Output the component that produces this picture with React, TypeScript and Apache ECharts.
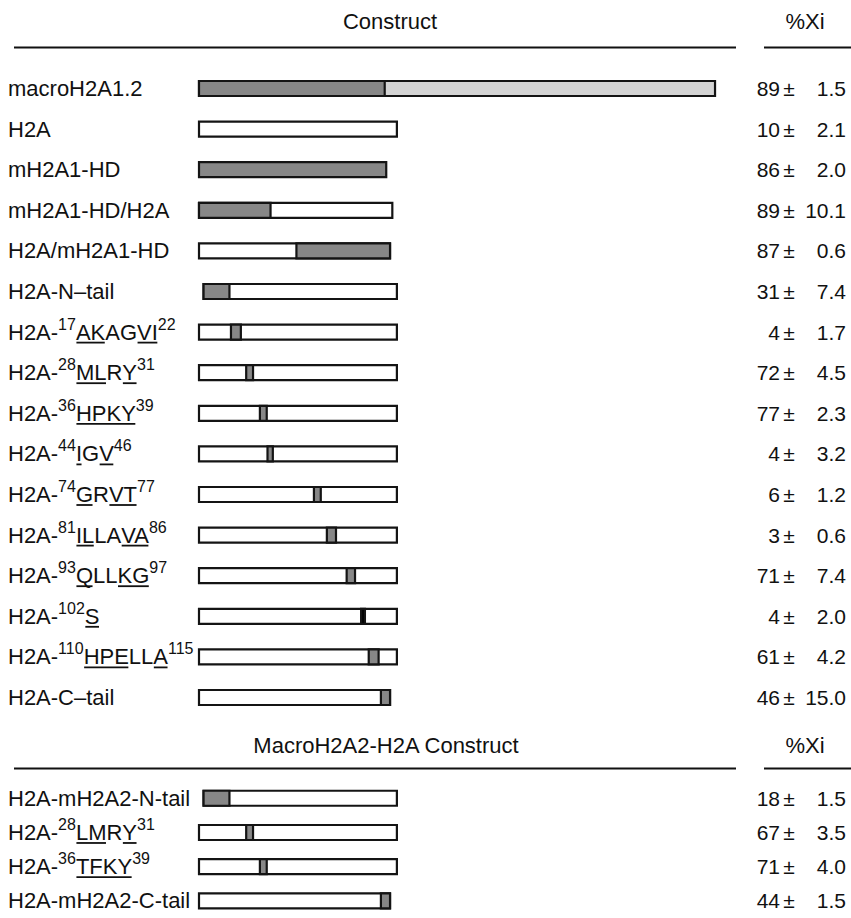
import React, { useEffect, useRef } from "react";
import * as echarts from "echarts";

// ---- Data ----
// Section 1: macroH2A1 / H2A constructs
const names1 = [
  "macroH2A1.2",
  "H2A",
  "mH2A1-HD",
  "mH2A1-HD/H2A",
  "H2A/mH2A1-HD",
  "H2A-N\u2013tail",
  "H2A-^17^_AK_AG_VI_^22^",
  "H2A-^28^_ML_R_Y_^31^",
  "H2A-^36^_HPKY_^39^",
  "H2A-^44^_I_G_V_^46^",
  "H2A-^74^_G_R_VT_^77^",
  "H2A-^81^_IL_LA_VA_^86^",
  "H2A-^93^_Q_LL_KG_^97^",
  "H2A-^102^_S_",
  "H2A-^110^_HPE_LL_A_^115^",
  "H2A-C\u2013tail",
];
// schematic positions (approx. residue units)
const baseStart1 = [0, 0, 0, 0, 0, 3, 0, 0, 0, 0, 0, 0, 0, 0, 0, 0];
const baseEnd1 = [339, 130, 123, 127, 125.5, 130, 130, 130, 130, 130, 130, 130, 130, 130, 130, 125.5];
const baseFill1 = ["light", "white", "dark", "white", "white", "white", "white", "white", "white", "white", "white", "white", "white", "white", "white", "white"];
const regStart1 = [0, null, null, 0, 64, 3, 21, 31, 40, 45, 75.5, 84, 97, 106.5, 111.5, 119.5];
const regEnd1 = [122, null, null, 47, 125.5, 20, 27.5, 35.5, 44.5, 48.5, 80, 90, 102.5, 109, 118, 125.5];
const regFill1 = ["dark", null, null, "dark", "dark", "dark", "dark", "dark", "dark", "dark", "dark", "dark", "dark", "black", "dark", "dark"];
const xiMean1 = [89, 10, 86, 89, 87, 31, 4, 72, 77, 4, 6, 3, 71, 4, 61, 46];
const xiSd1 = [1.5, 2.1, 2.0, 10.1, 0.6, 7.4, 1.7, 4.5, 2.3, 3.2, 1.2, 0.6, 7.4, 2.0, 4.2, 15.0];

// Section 2: MacroH2A2-H2A constructs
const names2 = [
  "H2A-mH2A2-N-tail",
  "H2A-^28^_LM_R_Y_^31^",
  "H2A-^36^_TFKY_^39^",
  "H2A-mH2A2-C-tail",
];
const baseStart2 = [3, 0, 0, 0];
const baseEnd2 = [130, 130, 130, 125.5];
const baseFill2 = ["white", "white", "white", "white"];
const regStart2 = [3, 31, 40, 119.5];
const regEnd2 = [20, 35.5, 44.5, 125.5];
const regFill2 = ["dark", "dark", "dark", "dark"];
const xiMean2 = [18, 67, 71, 44];
const xiSd2 = [1.5, 3.5, 4.0, 1.5];

const headers = ["Construct", "MacroH2A2-H2A Construct"];
const valueHeader = "%Xi";

// ---- Style ----
const FONT = '"Liberation Sans", Arial, Helvetica, sans-serif';
const FILLS: Record<string, string> = {
  dark: "#878787",
  light: "#d4d4d4",
  white: "#ffffff",
  black: "#000000",
};
const STROKE = "#141414";
const LABEL_SIZE = 22;
const SUP_SIZE = 16;
const VALUE_SIZE = 21;
const HEADER_SIZE = 22;
const BAR_H = 15;

let measureCtx: CanvasRenderingContext2D | null = null;
function textWidth(t: string, size: number): number {
  if (!measureCtx) {
    const c = document.createElement("canvas");
    measureCtx = c.getContext("2d");
  }
  if (!measureCtx) return t.length * size * 0.55;
  measureCtx.font = `${size}px ${FONT}`;
  return measureCtx.measureText(t).width;
}

type Piece = { text: string; sup: boolean; u: boolean };
function parseLabel(s: string): Piece[] {
  const out: Piece[] = [];
  let sup = false;
  let u = false;
  let cur = "";
  const flush = () => {
    if (cur) out.push({ text: cur, sup, u });
    cur = "";
  };
  for (const ch of s) {
    if (ch === "^") {
      flush();
      sup = !sup;
    } else if (ch === "_") {
      flush();
      u = !u;
    } else cur += ch;
  }
  flush();
  return out;
}

function txt(text: string, x: number, y: number, size: number, align: string) {
  return {
    type: "text",
    style: {
      text,
      x,
      y,
      font: `${size}px ${FONT}`,
      fill: "#111",
      align,
      verticalAlign: "middle",
      textAlign: align,
      textVerticalAlign: "middle",
    },
  };
}

function makeRender(
  names: string[],
  bS: number[],
  bE: number[],
  bF: string[],
  rS: (number | null)[],
  rE: (number | null)[],
  rF: (string | null)[],
  mean: number[],
  sd: number[]
) {
  return (params: any, api: any) => {
    const i = params.dataIndex;
    const y = api.coord([0, i])[1];
    const children: any[] = [];
    // base bar
    const x0 = api.coord([bS[i], i])[0];
    const x1 = api.coord([bE[i], i])[0];
    children.push({
      type: "rect",
      shape: { x: x0, y: y - BAR_H / 2, width: x1 - x0, height: BAR_H },
      style: { fill: FILLS[bF[i]], stroke: STROKE, lineWidth: 2.2 },
    });
    if (rS[i] != null && rE[i] != null && rF[i]) {
      const r0 = api.coord([rS[i], i])[0];
      const r1 = api.coord([rE[i], i])[0];
      children.push({
        type: "rect",
        shape: { x: r0, y: y - BAR_H / 2, width: r1 - r0, height: BAR_H },
        style: { fill: FILLS[rF[i] as string], stroke: STROKE, lineWidth: 2.2 },
      });
    }
    // label with superscripts and underlines
    let lx = 8;
    for (const p of parseLabel(names[i])) {
      const size = p.sup ? SUP_SIZE : LABEL_SIZE;
      const w = textWidth(p.text, size);
      children.push(txt(p.text, lx, p.sup ? y - 8 : y, size, "left"));
      if (p.u) {
        children.push({
          type: "line",
          shape: { x1: lx + 0.5, y1: y + 10.5, x2: lx + w - 0.5, y2: y + 10.5 },
          style: { stroke: "#111", lineWidth: 1.8 },
        });
      }
      lx += w;
    }
    // %Xi value
    children.push(txt(String(mean[i]), 780, y, VALUE_SIZE, "right"));
    children.push(txt("\u00b1", 789, y, VALUE_SIZE, "center"));
    children.push(txt(sd[i].toFixed(1), 846, y, VALUE_SIZE, "right"));
    return { type: "group", children };
  };
}

export default function App() {
  const ref = useRef<HTMLDivElement>(null);
  useEffect(() => {
    if (!ref.current) return;
    const chart = echarts.init(ref.current, undefined, { renderer: "svg" });
    const rowStep1 = 40.6;
    const first1 = 88.5;
    const rowStep2 = 35.67;
    const first2 = 799;
    const hline = (x1: number, x2: number, y: number) => ({
      type: "line",
      shape: { x1, y1: y, x2, y2: y },
      style: { stroke: "#111", lineWidth: 2 },
    });
    chart.setOption({
      animation: false,
      backgroundColor: "#ffffff",
      grid: [
        {
          left: 199,
          width: 548,
          top: first1 - rowStep1 / 2,
          height: rowStep1 * names1.length,
        },
        {
          left: 199,
          width: 548,
          top: first2 - rowStep2 / 2,
          height: rowStep2 * names2.length,
        },
      ],
      xAxis: [
        { type: "value", gridIndex: 0, min: 0, max: 360, show: false },
        { type: "value", gridIndex: 1, min: 0, max: 360, show: false },
      ],
      yAxis: [
        { type: "category", gridIndex: 0, inverse: true, data: names1, show: false },
        { type: "category", gridIndex: 1, inverse: true, data: names2, show: false },
      ],
      graphic: [
        txt(headers[0], 390, 21, HEADER_SIZE, "center"),
        hline(14, 736, 47.5),
        txt(valueHeader, 805, 21, HEADER_SIZE, "center"),
        hline(764, 851, 47.5),
        txt(headers[1], 386, 745, HEADER_SIZE, "center"),
        hline(14, 736, 768.5),
        txt(valueHeader, 805, 745, HEADER_SIZE, "center"),
        hline(764, 851, 768.5),
      ],
      series: [
        {
          type: "custom",
          xAxisIndex: 0,
          yAxisIndex: 0,
          clip: false,
          encode: { x: 0, y: 1 },
          data: names1.map((_, i) => [0, i]),
          renderItem: makeRender(names1, baseStart1, baseEnd1, baseFill1, regStart1, regEnd1, regFill1, xiMean1, xiSd1),
        },
        {
          type: "custom",
          xAxisIndex: 1,
          yAxisIndex: 1,
          clip: false,
          encode: { x: 0, y: 1 },
          data: names2.map((_, i) => [0, i]),
          renderItem: makeRender(names2, baseStart2, baseEnd2, baseFill2, regStart2, regEnd2, regFill2, xiMean2, xiSd2),
        },
      ],
    });
    return () => chart.dispose();
  }, []);
  return (
    <div
      ref={ref}
      style={{ position: "fixed", left: 0, top: 0, width: 851, height: 918, background: "#fff" }}
    />
  );
}
